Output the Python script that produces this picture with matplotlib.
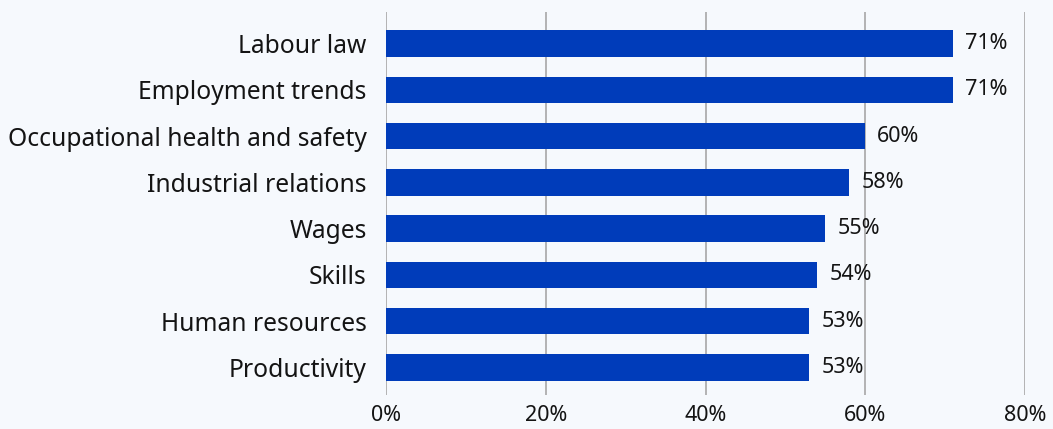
import matplotlib.pyplot as plt
from matplotlib.ticker import FuncFormatter

plt.rcParams['font.family'] = ['Noto Sans', 'DejaVu Sans']

topics = ["Labour law", "Employment trends", "Occupational health and safety",
          "Industrial relations", "Wages", "Skills", "Human resources", "Productivity"]
shares = [71, 71, 60, 58, 55, 54, 53, 53]
xticks = [0, 20, 40, 60, 80]

bg = '#f6f9fd'
bar_colour = '#003cba'
text_colour = '#141414'

fig = plt.figure(figsize=(10.53, 4.29), dpi=100, facecolor=bg)
ax = fig.add_axes([0.3666, 0.0793, 0.6068, 0.8927], facecolor=bg)

ypos = list(range(len(topics)))
ax.barh(ypos, shares, height=0.57, color=bar_colour, zorder=3)

for y, v in zip(ypos, shares):
    ax.text(v + 1.5, y, f"{v}%", va='center', ha='left', fontsize=15.5, color=text_colour)

ax.set_xlim(0, 80)
ax.set_ylim(len(topics) - 0.406, -0.68)
ax.set_yticks(ypos)
ax.set_yticklabels(topics, fontsize=17.7, color=text_colour)
ax.set_xticks(xticks)
ax.xaxis.set_major_formatter(FuncFormatter(lambda v, p: f"{v:.0f}%"))
ax.tick_params(axis='x', labelsize=15.5, colors=text_colour, length=0, pad=7)
ax.tick_params(axis='y', length=0, pad=14)

ax.grid(axis='x', color='#a0a0a0', linewidth=1.1, zorder=0)
for s in ax.spines.values():
    s.set_visible(False)

fig.savefig('out.png', dpi=100, facecolor=bg)
